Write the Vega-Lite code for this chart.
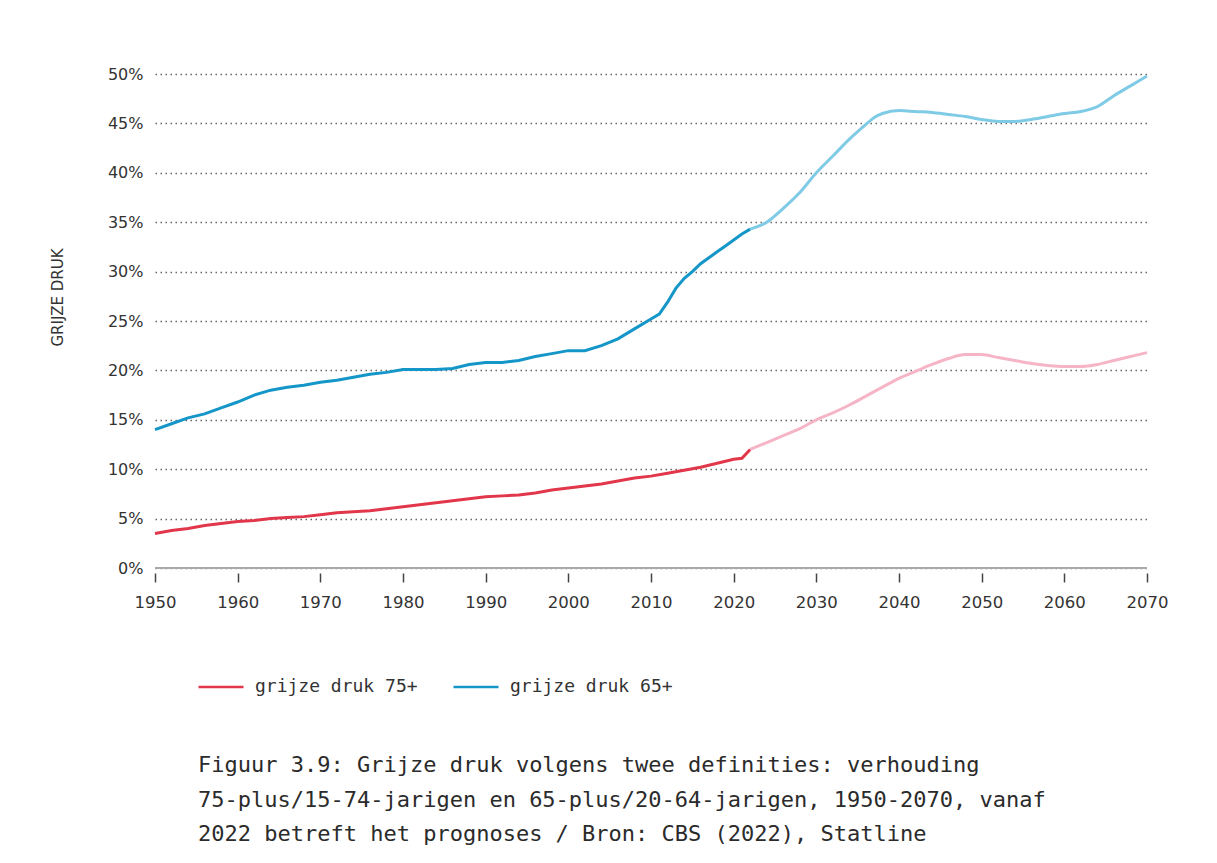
{
  "$schema": "https://vega.github.io/schema/vega-lite/v6.json",
  "width": 992,
  "height": 494,
  "autosize": "none",
  "padding": {"left": 155, "top": 74, "right": 70, "bottom": 295},
  "background": "white",
  "config": {"view": {"stroke": null}, "font": "DejaVu Sans"},
  "title": {
    "text": [
      "Figuur 3.9: Grijze druk volgens twee definities: verhouding",
      "75-plus/15-74-jarigen en 65-plus/20-64-jarigen, 1950-2070, vanaf",
      "2022 betreft het prognoses / Bron: CBS (2022), Statline"
    ],
    "orient": "bottom",
    "anchor": "start",
    "frame": "group",
    "dx": 43,
    "offset": 59,
    "font": "DejaVu Sans Mono",
    "fontSize": 22,
    "fontWeight": "normal",
    "color": "#2b2b2b",
    "lineHeight": 34.5
  },
  "datasets": {
    "hist": [
      {"jaar": 1950, "waarde": 14.0, "reeks": "grijze druk 65+"},
      {"jaar": 1952, "waarde": 14.6, "reeks": "grijze druk 65+"},
      {"jaar": 1954, "waarde": 15.2, "reeks": "grijze druk 65+"},
      {"jaar": 1956, "waarde": 15.6, "reeks": "grijze druk 65+"},
      {"jaar": 1958, "waarde": 16.2, "reeks": "grijze druk 65+"},
      {"jaar": 1960, "waarde": 16.8, "reeks": "grijze druk 65+"},
      {"jaar": 1962, "waarde": 17.5, "reeks": "grijze druk 65+"},
      {"jaar": 1964, "waarde": 18.0, "reeks": "grijze druk 65+"},
      {"jaar": 1966, "waarde": 18.3, "reeks": "grijze druk 65+"},
      {"jaar": 1968, "waarde": 18.5, "reeks": "grijze druk 65+"},
      {"jaar": 1970, "waarde": 18.8, "reeks": "grijze druk 65+"},
      {"jaar": 1972, "waarde": 19.0, "reeks": "grijze druk 65+"},
      {"jaar": 1974, "waarde": 19.3, "reeks": "grijze druk 65+"},
      {"jaar": 1976, "waarde": 19.6, "reeks": "grijze druk 65+"},
      {"jaar": 1978, "waarde": 19.8, "reeks": "grijze druk 65+"},
      {"jaar": 1980, "waarde": 20.1, "reeks": "grijze druk 65+"},
      {"jaar": 1982, "waarde": 20.1, "reeks": "grijze druk 65+"},
      {"jaar": 1984, "waarde": 20.1, "reeks": "grijze druk 65+"},
      {"jaar": 1986, "waarde": 20.2, "reeks": "grijze druk 65+"},
      {"jaar": 1988, "waarde": 20.6, "reeks": "grijze druk 65+"},
      {"jaar": 1990, "waarde": 20.8, "reeks": "grijze druk 65+"},
      {"jaar": 1992, "waarde": 20.8, "reeks": "grijze druk 65+"},
      {"jaar": 1994, "waarde": 21.0, "reeks": "grijze druk 65+"},
      {"jaar": 1996, "waarde": 21.4, "reeks": "grijze druk 65+"},
      {"jaar": 1998, "waarde": 21.7, "reeks": "grijze druk 65+"},
      {"jaar": 2000, "waarde": 22.0, "reeks": "grijze druk 65+"},
      {"jaar": 2002, "waarde": 22.0, "reeks": "grijze druk 65+"},
      {"jaar": 2004, "waarde": 22.5, "reeks": "grijze druk 65+"},
      {"jaar": 2006, "waarde": 23.2, "reeks": "grijze druk 65+"},
      {"jaar": 2008, "waarde": 24.2, "reeks": "grijze druk 65+"},
      {"jaar": 2010, "waarde": 25.2, "reeks": "grijze druk 65+"},
      {"jaar": 2011, "waarde": 25.7, "reeks": "grijze druk 65+"},
      {"jaar": 2012, "waarde": 26.9, "reeks": "grijze druk 65+"},
      {"jaar": 2013, "waarde": 28.3, "reeks": "grijze druk 65+"},
      {"jaar": 2014, "waarde": 29.3, "reeks": "grijze druk 65+"},
      {"jaar": 2015, "waarde": 30.0, "reeks": "grijze druk 65+"},
      {"jaar": 2016, "waarde": 30.8, "reeks": "grijze druk 65+"},
      {"jaar": 2017, "waarde": 31.4, "reeks": "grijze druk 65+"},
      {"jaar": 2018, "waarde": 32.0, "reeks": "grijze druk 65+"},
      {"jaar": 2019, "waarde": 32.6, "reeks": "grijze druk 65+"},
      {"jaar": 2020, "waarde": 33.2, "reeks": "grijze druk 65+"},
      {"jaar": 2021, "waarde": 33.8, "reeks": "grijze druk 65+"},
      {"jaar": 2022, "waarde": 34.3, "reeks": "grijze druk 65+"},
      {"jaar": 1950, "waarde": 3.5, "reeks": "grijze druk 75+"},
      {"jaar": 1952, "waarde": 3.8, "reeks": "grijze druk 75+"},
      {"jaar": 1954, "waarde": 4.0, "reeks": "grijze druk 75+"},
      {"jaar": 1956, "waarde": 4.3, "reeks": "grijze druk 75+"},
      {"jaar": 1958, "waarde": 4.5, "reeks": "grijze druk 75+"},
      {"jaar": 1960, "waarde": 4.7, "reeks": "grijze druk 75+"},
      {"jaar": 1962, "waarde": 4.8, "reeks": "grijze druk 75+"},
      {"jaar": 1964, "waarde": 5.0, "reeks": "grijze druk 75+"},
      {"jaar": 1966, "waarde": 5.1, "reeks": "grijze druk 75+"},
      {"jaar": 1968, "waarde": 5.2, "reeks": "grijze druk 75+"},
      {"jaar": 1970, "waarde": 5.4, "reeks": "grijze druk 75+"},
      {"jaar": 1972, "waarde": 5.6, "reeks": "grijze druk 75+"},
      {"jaar": 1974, "waarde": 5.7, "reeks": "grijze druk 75+"},
      {"jaar": 1976, "waarde": 5.8, "reeks": "grijze druk 75+"},
      {"jaar": 1978, "waarde": 6.0, "reeks": "grijze druk 75+"},
      {"jaar": 1980, "waarde": 6.2, "reeks": "grijze druk 75+"},
      {"jaar": 1982, "waarde": 6.4, "reeks": "grijze druk 75+"},
      {"jaar": 1984, "waarde": 6.6, "reeks": "grijze druk 75+"},
      {"jaar": 1986, "waarde": 6.8, "reeks": "grijze druk 75+"},
      {"jaar": 1988, "waarde": 7.0, "reeks": "grijze druk 75+"},
      {"jaar": 1990, "waarde": 7.2, "reeks": "grijze druk 75+"},
      {"jaar": 1992, "waarde": 7.3, "reeks": "grijze druk 75+"},
      {"jaar": 1994, "waarde": 7.4, "reeks": "grijze druk 75+"},
      {"jaar": 1996, "waarde": 7.6, "reeks": "grijze druk 75+"},
      {"jaar": 1998, "waarde": 7.9, "reeks": "grijze druk 75+"},
      {"jaar": 2000, "waarde": 8.1, "reeks": "grijze druk 75+"},
      {"jaar": 2002, "waarde": 8.3, "reeks": "grijze druk 75+"},
      {"jaar": 2004, "waarde": 8.5, "reeks": "grijze druk 75+"},
      {"jaar": 2006, "waarde": 8.8, "reeks": "grijze druk 75+"},
      {"jaar": 2008, "waarde": 9.1, "reeks": "grijze druk 75+"},
      {"jaar": 2010, "waarde": 9.3, "reeks": "grijze druk 75+"},
      {"jaar": 2012, "waarde": 9.6, "reeks": "grijze druk 75+"},
      {"jaar": 2014, "waarde": 9.9, "reeks": "grijze druk 75+"},
      {"jaar": 2016, "waarde": 10.2, "reeks": "grijze druk 75+"},
      {"jaar": 2018, "waarde": 10.6, "reeks": "grijze druk 75+"},
      {"jaar": 2020, "waarde": 11.0, "reeks": "grijze druk 75+"},
      {"jaar": 2021, "waarde": 11.1, "reeks": "grijze druk 75+"},
      {"jaar": 2022, "waarde": 12.0, "reeks": "grijze druk 75+"}
    ],
    "prog": [
      {"jaar": 2022, "waarde": 34.3, "reeks": "grijze druk 65+"},
      {"jaar": 2024, "waarde": 35.0, "reeks": "grijze druk 65+"},
      {"jaar": 2026, "waarde": 36.4, "reeks": "grijze druk 65+"},
      {"jaar": 2028, "waarde": 38.0, "reeks": "grijze druk 65+"},
      {"jaar": 2030, "waarde": 40.0, "reeks": "grijze druk 65+"},
      {"jaar": 2032, "waarde": 41.7, "reeks": "grijze druk 65+"},
      {"jaar": 2034, "waarde": 43.4, "reeks": "grijze druk 65+"},
      {"jaar": 2036, "waarde": 44.9, "reeks": "grijze druk 65+"},
      {"jaar": 2037, "waarde": 45.6, "reeks": "grijze druk 65+"},
      {"jaar": 2038, "waarde": 46.0, "reeks": "grijze druk 65+"},
      {"jaar": 2040, "waarde": 46.3, "reeks": "grijze druk 65+"},
      {"jaar": 2042, "waarde": 46.2, "reeks": "grijze druk 65+"},
      {"jaar": 2044, "waarde": 46.1, "reeks": "grijze druk 65+"},
      {"jaar": 2046, "waarde": 45.9, "reeks": "grijze druk 65+"},
      {"jaar": 2048, "waarde": 45.7, "reeks": "grijze druk 65+"},
      {"jaar": 2050, "waarde": 45.4, "reeks": "grijze druk 65+"},
      {"jaar": 2052, "waarde": 45.2, "reeks": "grijze druk 65+"},
      {"jaar": 2054, "waarde": 45.2, "reeks": "grijze druk 65+"},
      {"jaar": 2056, "waarde": 45.4, "reeks": "grijze druk 65+"},
      {"jaar": 2058, "waarde": 45.7, "reeks": "grijze druk 65+"},
      {"jaar": 2060, "waarde": 46.0, "reeks": "grijze druk 65+"},
      {"jaar": 2062, "waarde": 46.2, "reeks": "grijze druk 65+"},
      {"jaar": 2064, "waarde": 46.7, "reeks": "grijze druk 65+"},
      {"jaar": 2066, "waarde": 47.8, "reeks": "grijze druk 65+"},
      {"jaar": 2068, "waarde": 48.8, "reeks": "grijze druk 65+"},
      {"jaar": 2070, "waarde": 49.8, "reeks": "grijze druk 65+"},
      {"jaar": 2022, "waarde": 12.0, "reeks": "grijze druk 75+"},
      {"jaar": 2024, "waarde": 12.7, "reeks": "grijze druk 75+"},
      {"jaar": 2026, "waarde": 13.4, "reeks": "grijze druk 75+"},
      {"jaar": 2028, "waarde": 14.1, "reeks": "grijze druk 75+"},
      {"jaar": 2030, "waarde": 15.0, "reeks": "grijze druk 75+"},
      {"jaar": 2032, "waarde": 15.7, "reeks": "grijze druk 75+"},
      {"jaar": 2034, "waarde": 16.5, "reeks": "grijze druk 75+"},
      {"jaar": 2036, "waarde": 17.4, "reeks": "grijze druk 75+"},
      {"jaar": 2038, "waarde": 18.3, "reeks": "grijze druk 75+"},
      {"jaar": 2040, "waarde": 19.2, "reeks": "grijze druk 75+"},
      {"jaar": 2042, "waarde": 19.9, "reeks": "grijze druk 75+"},
      {"jaar": 2044, "waarde": 20.6, "reeks": "grijze druk 75+"},
      {"jaar": 2046, "waarde": 21.2, "reeks": "grijze druk 75+"},
      {"jaar": 2048, "waarde": 21.6, "reeks": "grijze druk 75+"},
      {"jaar": 2050, "waarde": 21.6, "reeks": "grijze druk 75+"},
      {"jaar": 2052, "waarde": 21.3, "reeks": "grijze druk 75+"},
      {"jaar": 2054, "waarde": 21.0, "reeks": "grijze druk 75+"},
      {"jaar": 2056, "waarde": 20.7, "reeks": "grijze druk 75+"},
      {"jaar": 2058, "waarde": 20.5, "reeks": "grijze druk 75+"},
      {"jaar": 2060, "waarde": 20.4, "reeks": "grijze druk 75+"},
      {"jaar": 2062, "waarde": 20.4, "reeks": "grijze druk 75+"},
      {"jaar": 2064, "waarde": 20.6, "reeks": "grijze druk 75+"},
      {"jaar": 2066, "waarde": 21.0, "reeks": "grijze druk 75+"},
      {"jaar": 2068, "waarde": 21.4, "reeks": "grijze druk 75+"},
      {"jaar": 2070, "waarde": 21.8, "reeks": "grijze druk 75+"}
    ],
    "basis": [{"waarde": 0}]
  },
  "encoding": {
    "y": {
      "field": "waarde",
      "type": "quantitative",
      "scale": {"domain": [0, 50], "nice": false},
      "axis": {
        "values": [0, 5, 10, 15, 20, 25, 30, 35, 40, 45, 50],
        "labelExpr": "datum.value + '%'",
        "domain": false,
        "ticks": false,
        "grid": true,
        "gridDash": [1.5, 3.5],
        "gridColor": "#666666",
        "gridWidth": 1.5,
        "labelFont": "DejaVu Sans",
        "labelFontSize": 16,
        "labelColor": "#333333",
        "labelPadding": 12,
        "title": "GRIJZE DRUK",
        "titleFont": "DejaVu Sans",
        "titleFontSize": 15,
        "titleFontWeight": "normal",
        "titleColor": "#333333",
        "titleX": -90,
        "titleY": 223
      }
    }
  },
  "layer": [
    {
      "data": {"name": "hist"},
      "mark": {"type": "line", "strokeWidth": 3},
      "encoding": {
        "x": {
          "field": "jaar",
          "type": "quantitative",
          "scale": {"domain": [1950, 2070], "nice": false, "zero": false},
          "axis": {
            "values": [1950, 1960, 1970, 1980, 1990, 2000, 2010, 2020, 2030, 2040, 2050, 2060, 2070],
            "format": "d",
            "grid": false,
            "domain": false,
            "offset": 5,
            "tickSize": 9,
            "tickWidth": 1.5,
            "tickColor": "#444444",
            "labelFont": "DejaVu Sans",
            "labelFontSize": 16.5,
            "labelColor": "#333333",
            "labelPadding": 12,
            "labelFlush": false,
            "title": null
          }
        },
        "color": {
          "field": "reeks",
          "type": "nominal",
          "scale": {"domain": ["grijze druk 75+", "grijze druk 65+"], "range": ["#e2374a", "#1496c8"]},
          "legend": {
            "orient": "none",
            "legendX": 42,
            "legendY": 589,
            "direction": "horizontal",
            "title": null,
            "symbolType": "stroke",
            "symbolSize": 2025,
            "symbolStrokeWidth": 2.5,
            "labelFont": "DejaVu Sans Mono",
            "labelFontSize": 18,
            "labelLimit": 0,
            "labelColor": "#333333",
            "labelOffset": 10,
            "columnPadding": 30
          }
        }
      }
    },
    {
      "data": {"name": "prog"},
      "mark": {"type": "line", "strokeWidth": 3, "interpolate": "monotone"},
      "encoding": {
        "x": {"field": "jaar", "type": "quantitative"},
        "color": {
          "field": "reeks",
          "type": "nominal",
          "scale": {"domain": ["grijze druk 75+", "grijze druk 65+"], "range": ["#f6b5c7", "#7fcbe6"]},
          "legend": null
        }
      }
    },
    {
      "data": {"name": "basis"},
      "mark": {"type": "rule", "color": "#aaaaaa", "strokeWidth": 2},
      "encoding": {}
    }
  ],
  "resolve": {"scale": {"color": "independent"}}
}
